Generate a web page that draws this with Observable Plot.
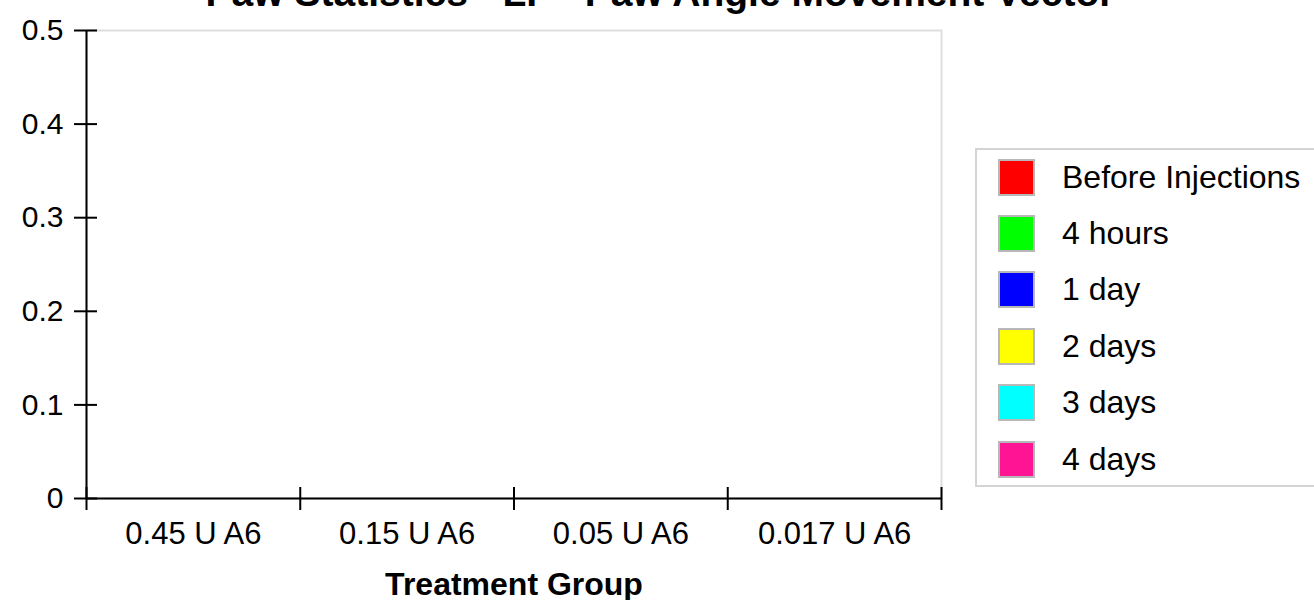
<!DOCTYPE html>
<html>
<head>
<meta charset="utf-8">
<script src="https://cdn.jsdelivr.net/npm/d3@7"></script>
<script src="https://cdn.jsdelivr.net/npm/@observablehq/plot@0.6"></script>
<style>
  html, body { margin: 0; padding: 0; background: #fff; overflow: hidden; }
  body { width: 1314px; height: 600px; position: relative; font-family: "Liberation Sans", Arial, sans-serif; }
  #title { position: absolute; z-index: 5; left: 0; width: 1320px; top: -27px; text-align: center; font-size: 39px; line-height: 39px; font-weight: bold; color: #000; white-space: nowrap; }
  #chart { position: absolute; left: 0; top: 0; z-index: 1; }
  #legend { position: absolute; z-index: 2; left: 975px; top: 148px; width: 360px; height: 339px; border: 2px solid #d4d4d4; box-sizing: border-box; background: #fff; }
  .item { position: absolute; left: 21px; height: 36px; display: flex; align-items: center; }
  .sw { width: 37px; height: 37px; box-sizing: border-box; border: 2px solid #b8b8b8; flex: none; }
  .lab { margin-left: 27px; font-size: 32px; color: #000; white-space: nowrap; }
</style>
</head>
<body>
<div id="title"></div>
<div id="chart"></div>
<div id="legend"></div>
<script>
const titleText = "Paw Statistics - LF - Paw Angle Movement Vector";
const categories = ["0.45 U A6", "0.15 U A6", "0.05 U A6", "0.017 U A6"];
const seriesNames = ["Before Injections", "4 hours", "1 day", "2 days", "3 days", "4 days"];
const seriesColors = ["#ff0000", "#00ff00", "#0000ff", "#ffff00", "#00ffff", "#ff1493"];
// No bars are visible in the reference: every value reads as 0.
const beforeInjections = [0, 0, 0, 0];
const hours4 = [0, 0, 0, 0];
const day1 = [0, 0, 0, 0];
const days2 = [0, 0, 0, 0];
const days3 = [0, 0, 0, 0];
const days4 = [0, 0, 0, 0];
const yTicks = [0, 0.1, 0.2, 0.3, 0.4, 0.5];
const xLabel = "Treatment Group";

document.getElementById("title").textContent = titleText;

const seriesValues = [beforeInjections, hours4, day1, days2, days3, days4];
const rows = [];
categories.forEach((c, i) => {
  seriesValues.forEach((vals, j) => {
    rows.push({cat: c, series: seriesNames[j], i, j, value: vals[i]});
  });
});
const nS = seriesNames.length;
const gap = 0.1;
const bw = (1 - 2 * gap) / nS;
const bounds = d3.range(categories.length + 1);

const chart = Plot.plot({
  width: 1314,
  height: 600,
  marginLeft: 86,
  marginRight: 373,
  marginTop: 30,
  marginBottom: 102,
  style: {fontFamily: "'Liberation Sans', Arial, sans-serif", fontSize: "30px", color: "#000", background: "transparent"},
  x: {domain: [0, categories.length], axis: null},
  y: {domain: [0, 0.5], axis: null},
  color: {domain: seriesNames, range: seriesColors},
  marks: [
    Plot.frame({stroke: "#dedede", strokeWidth: 2}),
    Plot.rectY(rows, {
      x1: d => d.i + gap + d.j * bw,
      x2: d => d.i + gap + (d.j + 1) * bw,
      y: "value",
      fill: "series"
    }),
    Plot.axisY({ticks: yTicks, tickSize: 12, tickPadding: 11, tickFormat: d => d === 0 ? "0" : d3.format(".1f")(d), stroke: "#000", strokeWidth: 2, label: null, fontSize: 30}),
    Plot.axisY({ticks: yTicks, tickSize: -11, fill: "none", stroke: "#000", strokeWidth: 2, label: null}),
    Plot.axisX({ticks: bounds, tickSize: 12, tickFormat: () => "", stroke: "#000", strokeWidth: 2, label: null}),
    Plot.axisX({ticks: bounds, tickSize: -11, fill: "none", stroke: "#000", strokeWidth: 2, label: null}),
    Plot.ruleX([0], {stroke: "#000", strokeWidth: 2, y1: 0, y2: 0.5}),
    Plot.ruleY([0], {stroke: "#000", strokeWidth: 2}),
    Plot.text(categories, {x: (d, i) => i + 0.5, y: 0, text: d => d, dy: 36, fontSize: 31, fill: "#000"}),
    Plot.text([xLabel], {frameAnchor: "bottom", dy: 96, fontSize: 32, fontWeight: "bold", fill: "#000"})
  ]
});
document.getElementById("chart").appendChild(chart);

const legend = document.getElementById("legend");
const tops = seriesNames.map((_, k) => 9 + k * 56.4);
seriesNames.forEach((name, k) => {
  const item = document.createElement("div");
  item.className = "item";
  item.style.top = tops[k] + "px";
  const sw = document.createElement("div");
  sw.className = "sw";
  sw.style.background = seriesColors[k];
  const lab = document.createElement("span");
  lab.className = "lab";
  lab.textContent = name;
  item.appendChild(sw);
  item.appendChild(lab);
  legend.appendChild(item);
});
</script>
</body>
</html>
